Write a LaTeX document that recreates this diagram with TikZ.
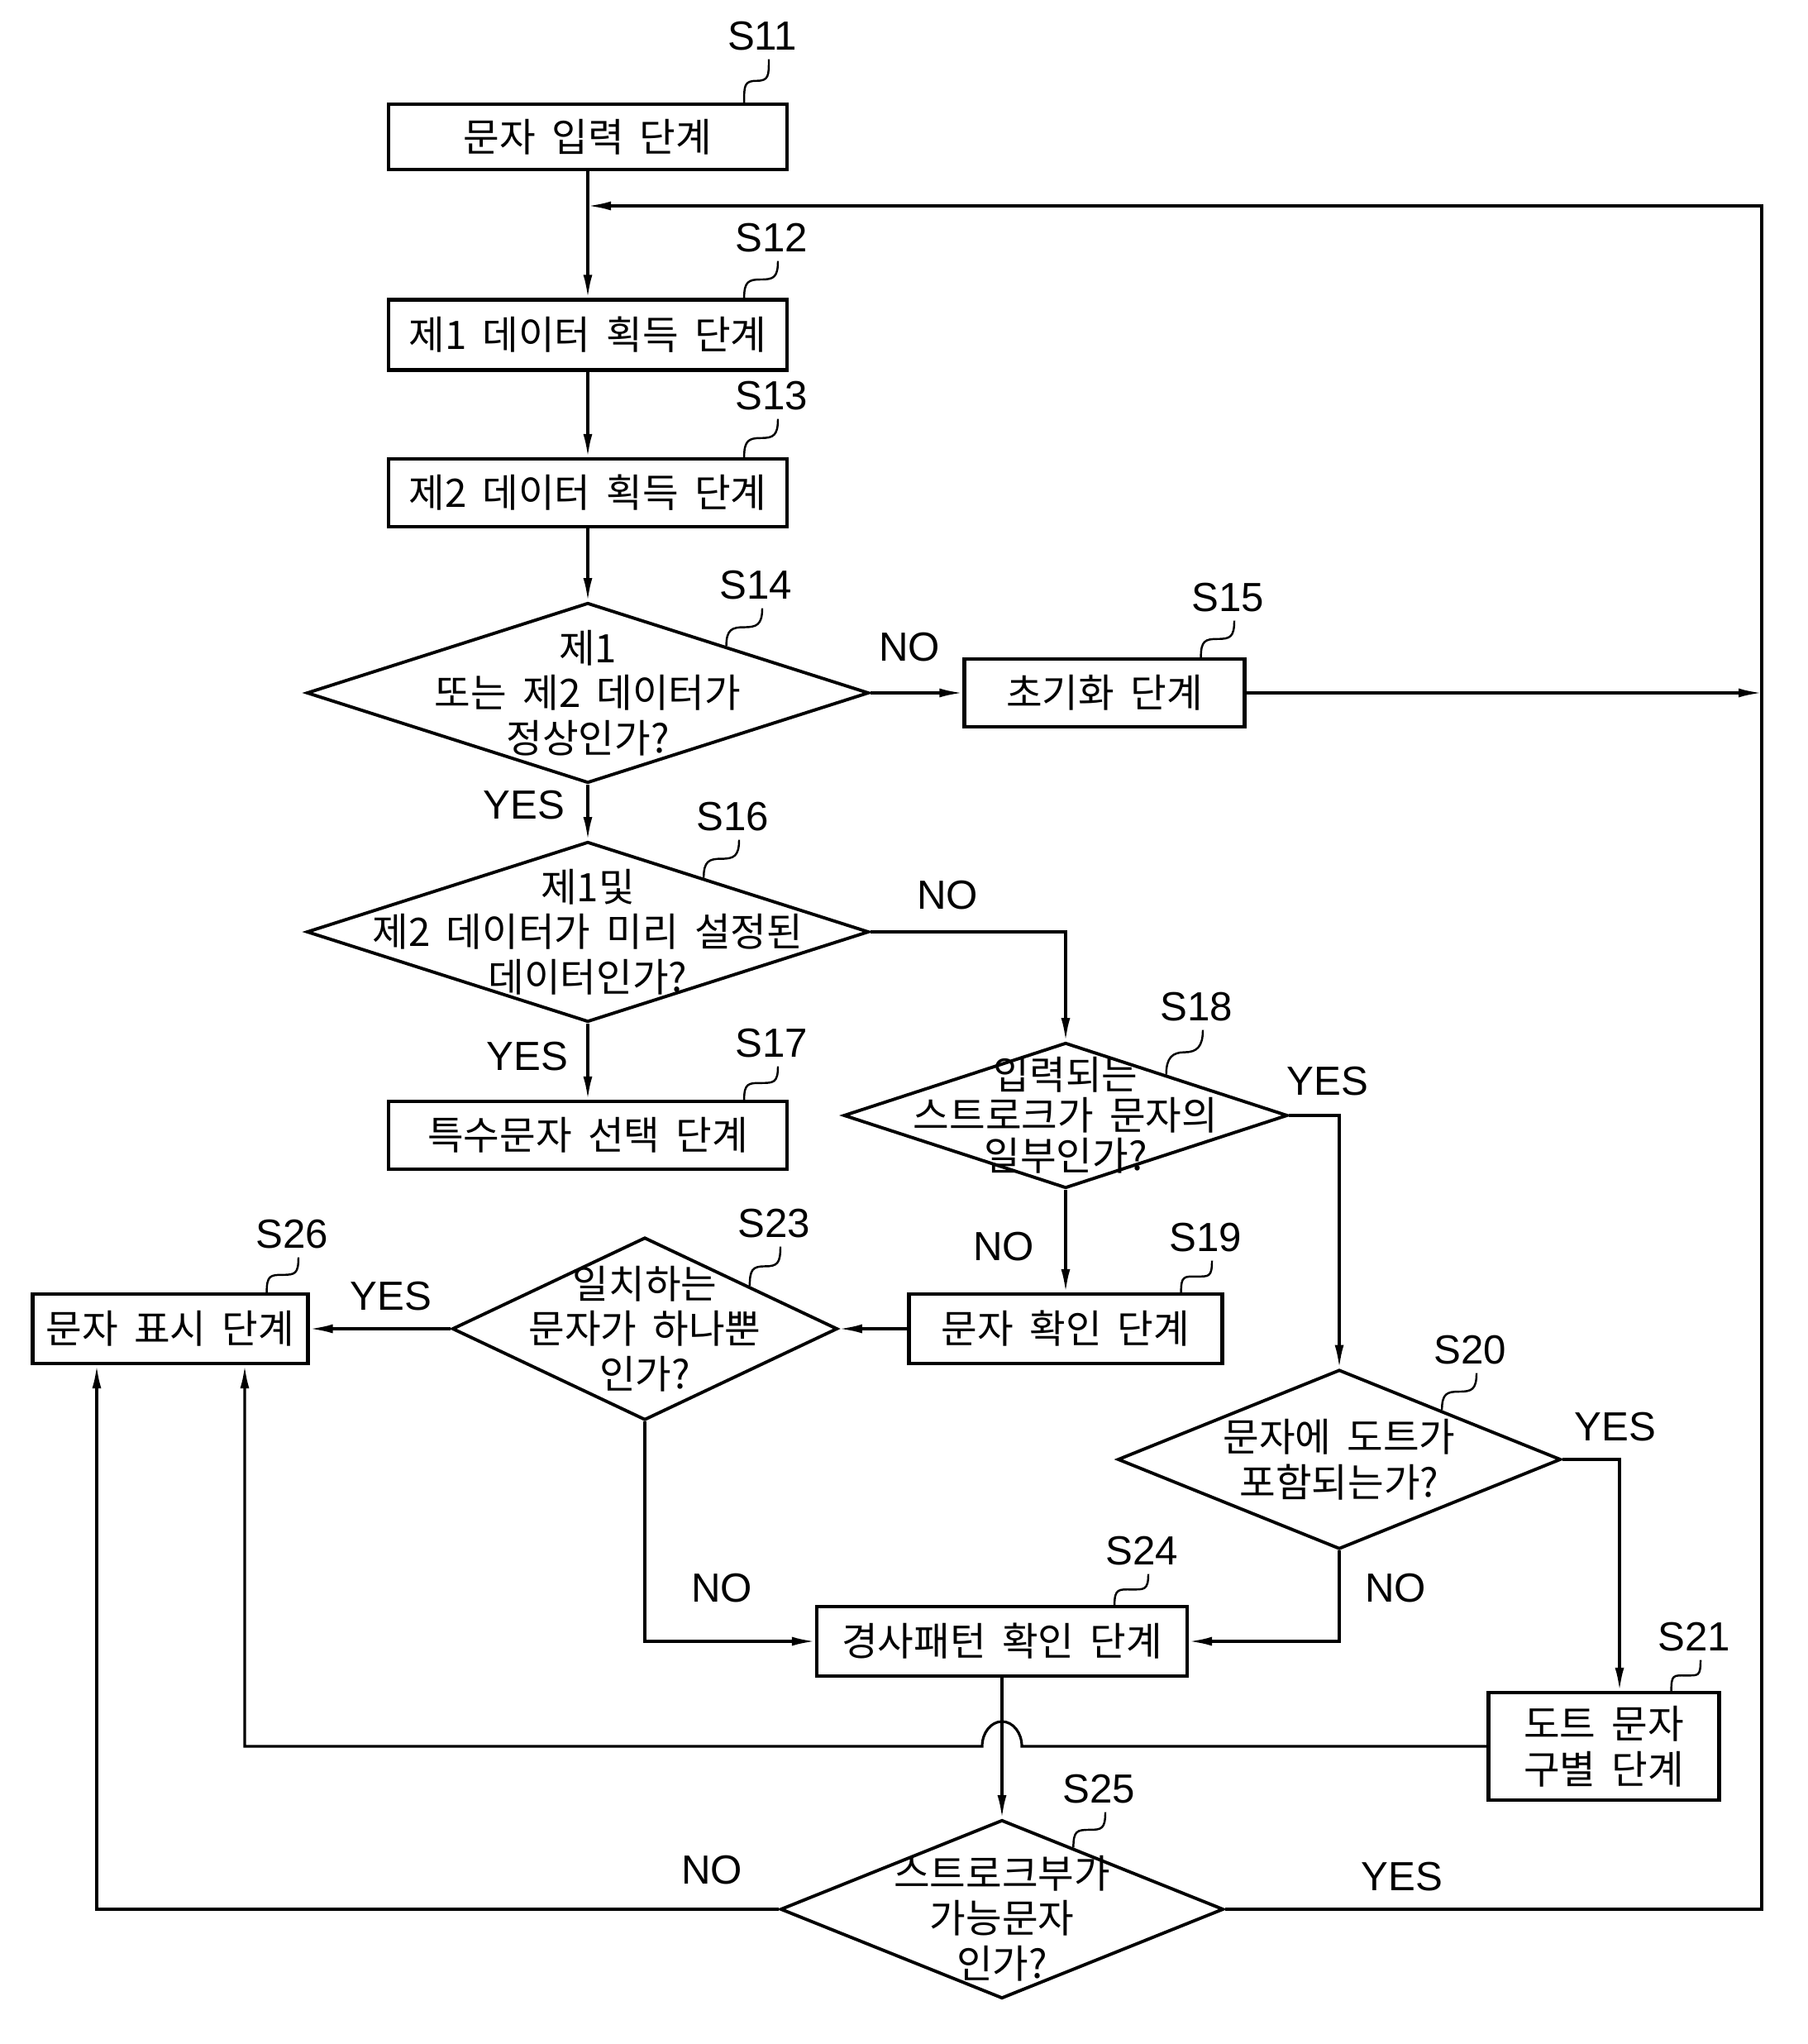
\documentclass[tikz,border=0pt]{standalone}
\usepackage{fontspec}
\setmainfont{Noto Sans CJK KR}[WordSpace=1.8]
\newfontfamily\latn{Liberation Sans}
\usepackage{tikz}
\usetikzlibrary{shapes.geometric,arrows.meta,calc}
\newcommand\lead[2]{\path #2 coordinate (e) ([shift={(0.08,-0.06)}]#1.south) coordinate (s);
  \draw[ld] (s) .. controls +(0,-0.2) and +(0.15,0) .. ($(s)!0.5!(e)$) .. controls +(-0.15,0) and +(0,0.2) .. (e);}

\begin{document}
\begin{tikzpicture}[
    box/.style={draw, line width=1.2pt, inner sep=0pt, align=center},
    dec/.style={diamond, draw, line width=1.1pt, inner sep=0pt},
    dtx/.style={align=center, inner sep=0pt},
    lb/.style={font=\latn\fontsize{14}{16}\selectfont, inner sep=1pt},
    yn/.style={font=\latn\fontsize{14}{16}\selectfont, inner sep=0pt},
    arr/.style={line width=0.9pt, -{Latex[length=2.8mm,width=1.1mm]}},
    ld/.style={line width=0.7pt},
    font=\fontsize{13.5}{15.5}\selectfont]
    \useasboundingbox (0,0) rectangle (21.86,-24.72);

    \node[box, minimum width=4.82cm, minimum height=0.79cm] (s11) at (7.11,-1.655) {문자 입력 단계};
    \node[box, minimum width=4.82cm, minimum height=0.85cm] (s12) at (7.11,-4.05) {제1 데이터 획득 단계};
    \node[box, minimum width=4.82cm, minimum height=0.82cm] (s13) at (7.11,-5.96) {제2 데이터 획득 단계};
    \node[dec, minimum width=6.8cm, minimum height=2.18cm] (d14) at (7.11,-8.38) {};
    \node[dtx] (q14) at (d14) {제1\\또는 제2 데이터가\\정상인가?};
    \node[box, minimum width=3.39cm, minimum height=0.82cm] (s15) at (13.36,-8.38) {초기화 단계};
    \node[dec, minimum width=6.8cm, minimum height=2.18cm] (d16) at (7.11,-11.27) {};
    \node[dtx] (q16) at (d16) {제1및\\제2 데이터가 미리 설정된\\데이터인가?};
    \node[box, minimum width=4.82cm, minimum height=0.82cm] (s17) at (7.11,-13.73) {특수문자 선택 단계};
    \node[dec, minimum width=5.37cm, minimum height=1.76cm] (d18) at (12.89,-13.49) {};
    \node[dtx, font=\fontsize{13.5}{13.9}\selectfont] (q18) at (d18) {입력되는\\스트로크가 문자의\\일부인가?};
    \node[box, minimum width=3.79cm, minimum height=0.84cm] (s19) at (12.89,-16.07) {문자 확인 단계};
    \node[dec, minimum width=5.36cm, minimum height=2.17cm] (d20) at (16.20,-17.65) {};
    \node[dtx] (q20) at (d20) {문자에 도트가\\포함되는가?};
    \node[box, minimum width=2.79cm, minimum height=1.30cm] (s21) at (19.40,-21.12) {도트 문자\\구별 단계};
    \node[dec, minimum width=4.66cm, minimum height=2.21cm] (d23) at (7.80,-16.07) {};
    \node[dtx] (q23) at (d23) {일치하는\\문자가 하나뿐\\인가?};
    \node[box, minimum width=4.48cm, minimum height=0.84cm] (s24) at (12.12,-19.85) {경사패턴 확인 단계};
    \node[dec, minimum width=5.36cm, minimum height=2.16cm] (d25) at (12.12,-23.09) {};
    \node[dtx] (q25) at ([yshift=-0.11cm]d25) {스트로크부가\\가능문자\\인가?};
    \node[box, minimum width=3.33cm, minimum height=0.84cm] (s26) at (2.06,-16.07) {문자 표시 단계};

    \node[lb] (l11) at (9.22,-0.44) {S11};
    \node[lb] (l12) at (9.33,-2.88) {S12};
    \node[lb] (l13) at (9.33,-4.79) {S13};
    \node[lb] (l14) at (9.14,-7.08) {S14};
    \node[lb] (l15) at (14.85,-7.23) {S15};
    \node[lb] (l16) at (8.86,-9.88) {S16};
    \node[lb] (l17) at (9.33,-12.62) {S17};
    \node[lb] (l18) at (14.47,-12.18) {S18};
    \node[lb] (l19) at (14.58,-14.97) {S19};
    \node[lb] (l20) at (17.78,-16.33) {S20};
    \node[lb] (l21) at (20.49,-19.80) {S21};
    \node[lb] (l23) at (9.36,-14.80) {S23};
    \node[lb] (l24) at (13.81,-18.76) {S24};
    \node[lb] (l25) at (13.29,-21.64) {S25};
    \node[lb] (l26) at (3.53,-14.93) {S26};

    \lead{l11}{([xshift=-0.54cm]s11.north east)}
    \lead{l12}{([xshift=-0.54cm]s12.north east)}
    \lead{l13}{([xshift=-0.54cm]s13.north east)}
    \lead{l14}{($(d14.north)!0.49!(d14.east)$)}
    \lead{l15}{([xshift=-0.55cm]s15.north east)}
    \lead{l16}{($(d16.north)!0.41!(d16.east)$)}
    \lead{l17}{([xshift=-0.54cm]s17.north east)}
    \lead{l18}{($(d18.north)!0.45!(d18.east)$)}
    \lead{l19}{([xshift=-0.52cm]s19.north east)}
    \lead{l20}{($(d20.north)!0.46!(d20.east)$)}
    \lead{l21}{([xshift=-0.6cm]s21.north east)}
    \lead{l23}{($(d23.north)!0.54!(d23.east)$)}
    \lead{l24}{([xshift=-0.9cm]s24.north east)}
    \lead{l25}{($(d25.north)!0.32!(d25.east)$)}
    \lead{l26}{([xshift=-0.52cm]s26.north east)}

    \node[yn] (n14) at (11.00,-7.83) {NO};
    \node[yn] (y14) at (6.34,-9.74) {YES};
    \node[yn] (n16) at (11.46,-10.83) {NO};
    \node[yn] (y16) at (6.38,-12.78) {YES};
    \node[yn] (y18) at (16.06,-13.08) {YES};
    \node[yn] (n18) at (12.14,-15.08) {NO};
    \node[yn] (y23) at (4.73,-15.68) {YES};
    \node[yn] (n23) at (8.73,-19.21) {NO};
    \node[yn] (y20) at (19.54,-17.26) {YES};
    \node[yn] (n20) at (16.88,-19.21) {NO};
    \node[yn] (n25) at (8.61,-22.62) {NO};
    \node[yn] (y25) at (16.96,-22.70) {YES};

    \coordinate (rt) at (21.31,-2.49);
    \coordinate (j0) at (s11.south |- rt);
    \coordinate (p1) at ([xshift=-0.89cm]s26.south);
    \coordinate (p2) at ([xshift=0.9cm]s26.south);
    \coordinate (q21) at ([xshift=0.19cm]s21.north);

    \draw[arr] (s11) -- (s12);
    \draw[arr] (s12) -- (s13);
    \draw[arr] (s13) -- (d14);
    \draw[arr] (d14) -- (s15);
    \draw[arr] (s15.east) -- (s15.east -| rt);
    \draw[arr] (d14) -- (d16);
    \draw[arr] (d16.east) -| (d18.north);
    \draw[arr] (d16) -- (s17);
    \draw[arr] (d18.east) -| (d20.north);
    \draw[arr] (d18) -- (s19);
    \draw[arr] (s19) -- (d23);
    \draw[arr] (d23) -- (s26);
    \draw[arr] (d23.south) |- (s24.west);
    \draw[arr] (d20.south) |- (s24.east);
    \draw[arr] (d20.east) -| (q21);
    \draw[arr] (s21.west) -- ($(s24.south |- s21.west)+(0.24,0)$)
        arc[start angle=0, end angle=180, x radius=0.24cm, y radius=0.3cm] -| (p2);
    \draw[arr] (s24) -- (d25);
    \draw[arr] (d25.west) -| (p1);
    \draw[arr] (d25.east) -| (rt) -- (j0);
\end{tikzpicture}
\end{document}
